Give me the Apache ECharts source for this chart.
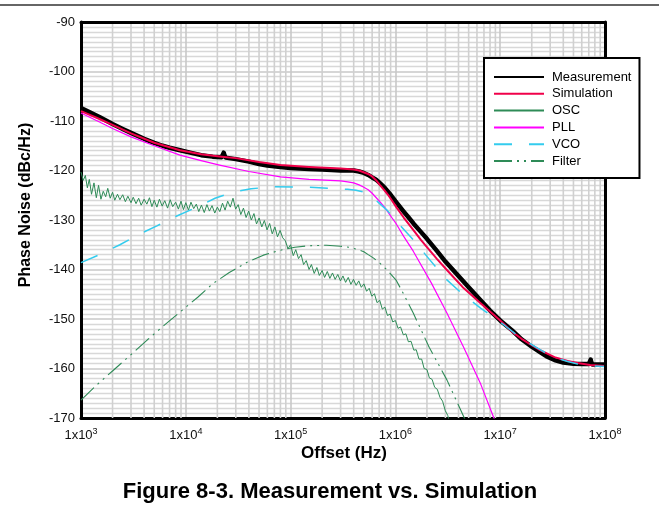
<!DOCTYPE html>
<html><head><meta charset="utf-8">
<script src="https://cdn.jsdelivr.net/npm/echarts@6/dist/echarts.min.js"></script>
<style>html,body{margin:0;padding:0;background:#fff}#c{width:659px;height:518px}</style>
</head><body><div id="c"></div>
<script>
const FONT = '"Liberation Sans", Arial, Helvetica, sans-serif';
const xExtent = [1e3, 1e8];
const yTicks = [-90, -100, -110, -120, -130, -140, -150, -160, -170];
const minorMultipliers = [2, 3, 4, 5, 6, 7, 8, 9];
const decades = [1e3, 1e4, 1e5, 1e6, 1e7];
const seriesNames = ['Measurement', 'Simulation', 'OSC', 'PLL', 'VCO', 'Filter'];

const measurement = [[1000,-107.4],[1200,-108.2],[1500,-109.2],[2000,-110.6],[2500,-111.6],[3000,-112.4],[4000,-113.6],[5000,-114.4],[6000,-115.0],[7000,-115.4],[8800,-115.9],[11000,-116.4],[14000,-116.9],[18000,-117.2],[22000,-117.3],[22600,-116.9],[23000,-116.4],[23400,-116.9],[24000,-117.4],[30000,-117.7],[40000,-118.2],[50000,-118.7],[60000,-119.0],[80000,-119.3],[100000,-119.5],[150000,-119.7],[200000,-119.8],[300000,-120.0],[400000,-120.0],[450000,-120.2],[500000,-120.5],[550000,-120.9],[600000,-121.4],[650000,-121.8],[700000,-122.4],[750000,-123.0],[800000,-123.6],[900000,-124.9],[1000000,-126.2],[1100000,-127.3],[1200000,-128.3],[1350000,-129.6],[1500000,-130.8],[1750000,-132.4],[2000000,-133.8],[2500000,-136.3],[3000000,-138.4],[4000000,-141.3],[5000000,-143.6],[6500000,-146.2],[8000000,-148.3],[1e7,-150.3],[1.3e7,-152.3],[1.6e7,-154.1],[2e7,-155.6],[2.4e7,-156.7],[2.75e7,-157.5],[3.3e7,-158.3],[4e7,-158.8],[5e7,-159.05],[6e7,-159.1],[7e7,-159.1],[7.2e7,-158.7],[7.3e7,-158.2],[7.4e7,-158.7],[7.6e7,-159.2],[1e8,-159.2]];

const simulation = [[1000,-108.0],[1500,-109.6],[2000,-110.8],[3000,-112.5],[5000,-114.4],[8800,-115.9],[14000,-116.7],[22000,-117.2],[30000,-117.5],[50000,-118.3],[80000,-118.9],[150000,-119.3],[300000,-119.6],[400000,-119.8],[450000,-120.0],[490000,-120.3],[550000,-120.7],[600000,-121.2],[650000,-121.9],[710000,-122.9],[780000,-123.9],[850000,-124.9],[930000,-126.1],[1020000,-127.4],[1200000,-129.5],[1480000,-132.0],[1750000,-134.0],[2000000,-135.5],[2500000,-137.9],[3100000,-140.1],[4500000,-143.8],[6500000,-146.8],[1e7,-150.3],[1.3e7,-152.6],[1.6e7,-154.0],[2e7,-155.3],[2.4e7,-156.3],[2.75e7,-156.9],[3.3e7,-157.7],[4.4e7,-158.5],[5.5e7,-158.9],[7.2e7,-159.3],[1e8,-159.5]];

const osc = [[1000,-120.3],[1050,-122.0],[1100,-121.0],[1150,-123.5],[1200,-121.8],[1260,-124.8],[1330,-122.5],[1400,-125.5],[1470,-123.0],[1550,-125.8],[1630,-124.2],[1720,-125.3],[1800,-123.6],[1900,-125.6],[2000,-124.4],[2100,-126.0],[2230,-124.8],[2350,-125.9],[2500,-124.9],[2650,-126.3],[2800,-125.2],[3000,-126.5],[3150,-125.4],[3350,-126.7],[3550,-125.6],[3750,-127.0],[4000,-125.8],[4250,-126.8],[4500,-125.5],[4750,-127.3],[5000,-126.0],[5300,-127.4],[5600,-125.8],[5950,-127.2],[6300,-126.1],[6700,-127.6],[7100,-125.9],[7500,-127.3],[8000,-126.4],[8500,-127.8],[9000,-126.2],[9500,-127.9],[10000,-126.5],[10600,-128.0],[11200,-126.4],[11900,-127.7],[12600,-126.8],[13300,-128.3],[14100,-127.0],[15000,-128.5],[15900,-126.9],[16800,-128.2],[17800,-127.1],[18900,-128.6],[20000,-127.4],[21100,-128.3],[22400,-126.6],[23700,-128.0],[25100,-126.2],[26600,-127.4],[28200,-125.6],[29900,-127.8],[31600,-126.9],[33500,-128.9],[35500,-127.6],[37600,-129.5],[39800,-128.2],[42200,-130.0],[44700,-128.7],[47300,-130.8],[50100,-129.6],[53100,-131.4],[56200,-130.1],[59600,-132.0],[63100,-130.7],[66800,-132.8],[70800,-131.4],[75000,-133.4],[79400,-132.1],[84100,-133.6],[89100,-134.2],[94400,-135.8],[100000,-135.0],[106000,-137.2],[112000,-136.0],[119000,-137.8],[126000,-137.0],[133000,-139.0],[141000,-138.2],[150000,-140.0],[158000,-139.0],[168000,-140.8],[178000,-139.6],[188000,-141.2],[200000,-140.2],[211000,-141.6],[224000,-140.4],[237000,-141.8],[251000,-140.7],[266000,-142.0],[282000,-141.0],[299000,-142.3],[316000,-141.3],[335000,-142.6],[355000,-141.6],[376000,-143.0],[398000,-142.0],[422000,-143.2],[447000,-142.3],[473000,-143.6],[501000,-142.9],[531000,-144.4],[562000,-143.8],[596000,-145.4],[631000,-144.9],[668000,-146.7],[708000,-146.2],[750000,-148.0],[794000,-147.6],[841000,-149.3],[891000,-149.0],[944000,-150.6],[1000000,-150.3],[1060000,-151.9],[1120000,-151.6],[1190000,-153.2],[1260000,-153.0],[1330000,-154.6],[1410000,-154.5],[1500000,-156.3],[1580000,-156.2],[1680000,-158.1],[1780000,-158.1],[1880000,-160.0],[2000000,-160.2],[2110000,-161.9],[2240000,-162.2],[2370000,-163.8],[2510000,-164.2],[2660000,-165.8],[2820000,-166.6],[2990000,-168.5],[3160000,-169.5],[3350000,-171.5]];

const pll = [[1000,-108.4],[1500,-110.2],[2000,-111.5],[3000,-113.2],[5000,-115.0],[8800,-116.9],[14000,-118.0],[21000,-118.9],[40000,-120.2],[80000,-121.3],[150000,-121.8],[300000,-122.1],[350000,-122.3],[400000,-122.5],[450000,-122.9],[490000,-123.3],[550000,-123.9],[600000,-124.6],[650000,-125.4],[710000,-126.3],[780000,-127.3],[850000,-128.4],[930000,-129.6],[1020000,-130.8],[1200000,-133.3],[1480000,-136.3],[2200000,-142.7],[3100000,-148.8],[4500000,-155.8],[6500000,-163.1],[8700000,-170.0],[1e7,-172.8]];

const vco = [[1000,-138.6],[1500,-137.0],[2350,-135.0],[3500,-133.0],[5300,-131.2],[8000,-129.3],[12800,-127.4],[19000,-125.6],[28000,-124.4],[35000,-124.0],[42000,-123.7],[55000,-123.45],[68000,-123.3],[150000,-123.4],[350000,-123.8],[420000,-124.0],[490000,-124.3],[550000,-124.8],[620000,-125.6],[700000,-126.6],[830000,-128.0],[1100000,-131.0],[1480000,-134.0],[2100000,-137.9],[3100000,-142.1],[4500000,-145.2],[6500000,-147.8],[1e7,-150.6],[1.4e7,-153.0],[2e7,-155.2],[2.4e7,-156.2],[2.75e7,-156.9],[3.5e7,-157.9],[4.4e7,-158.6],[5.5e7,-159.1],[7e7,-159.4],[1e8,-159.6]];

const filter = [[1000,-166.4],[1400,-163.4],[2050,-160.3],[3000,-157.2],[4300,-154.2],[6200,-151.3],[8800,-148.6],[13000,-145.6],[18000,-142.9],[26000,-140.6],[38000,-138.6],[55000,-137.1],[80000,-136.1],[110000,-135.5],[150000,-135.2],[220000,-135.1],[300000,-135.3],[360000,-135.5],[430000,-135.9],[500000,-136.4],[550000,-137.0],[620000,-137.7],[710000,-138.7],[850000,-140.3],[1020000,-142.2],[1200000,-145.0],[1480000,-148.8],[2100000,-155.7],[3100000,-162.3],[4500000,-169.8],[5000000,-172.0]];

const minorLines = [];
decades.forEach(d => minorMultipliers.forEach(m => minorLines.push([d * m])));

const chart = echarts.init(document.getElementById('c'), null, { renderer: 'canvas' });

const baseLine = (name, data, color, width, type, z) => ({
  name, type: 'line', data, symbol: 'none', showSymbol: false, smooth: false,
  animation: false, z: z, xAxisIndex: 0, yAxisIndex: 0,
  lineStyle: { color, width, type, join: 'round', cap: 'butt' }, itemStyle: { color }
});

const yMin = yTicks[yTicks.length - 1], yMax = yTicks[0];

chart.setOption({
  animation: false,
  textStyle: { fontFamily: FONT },
  grid: { left: 81, top: 22, width: 524, height: 396, show: false },
  xAxis: [{
    type: 'log', logBase: 10, min: xExtent[0], max: xExtent[1],
    axisLine: { show: true, lineStyle: { color: '#000', width: 3 } },
    axisTick: { show: false },
    splitLine: { show: true, lineStyle: { color: '#c8c8c8', width: 1.6 } },
    axisLabel: {
      margin: 9, color: '#111',
      formatter: v => '{b|1x10}{s|' + Math.round(Math.log10(v)) + '}',
      rich: { b: { fontSize: 13, fontFamily: FONT, color: '#111' }, s: { fontSize: 9, fontFamily: FONT, color: '#111', padding: [0, 0, 7, 0] } }
    }
  }, {
    type: 'log', logBase: 10, min: xExtent[0], max: xExtent[1], position: 'top', z: 10,
    axisLine: { show: true, lineStyle: { color: '#000', width: 3 } },
    axisTick: { show: false }, axisLabel: { show: false }, splitLine: { show: false }
  }],
  yAxis: [{
    type: 'value', min: yMin, max: yMax, interval: 10,
    axisLine: { show: true, lineStyle: { color: '#000', width: 3 } },
    axisTick: { show: false },
    axisLabel: { margin: 6, fontSize: 13, color: '#111', fontFamily: FONT },
    splitLine: { show: true, lineStyle: { color: '#c8c8c8', width: 1.5 } },
    minorTick: { show: false, splitNumber: 10 },
    minorSplitLine: { show: true, lineStyle: { color: '#d8d8d8', width: 1.4 } }
  }, {
    type: 'value', min: yMin, max: yMax, position: 'right', z: 10,
    axisLine: { show: true, lineStyle: { color: '#000', width: 3 } },
    axisTick: { show: false }, axisLabel: { show: false }, splitLine: { show: false }
  }],
  legend: {
    data: seriesNames, orient: 'vertical', left: 484, top: 58,
    padding: [12, 8, 10, 9], itemGap: 2.8, itemWidth: 50, itemHeight: 1,
    backgroundColor: '#fff', borderColor: '#000', borderWidth: 2, z: 20,
    itemStyle: { color: 'rgba(0,0,0,0)', borderWidth: 0, opacity: 0 },
    textStyle: { fontSize: 13, color: '#000', fontFamily: FONT, lineHeight: 14, padding: [0, 0, 0, 3] },
    selectedMode: false
  },
  series: [
    { type: 'custom', silent: true, z: 1, animation: false, xAxisIndex: 0, yAxisIndex: 0,
      data: minorLines, encode: { x: 0 },
      renderItem: (params, api) => {
        const p0 = api.coord([api.value(0), yMin]);
        const p1 = api.coord([api.value(0), yMax]);
        return { type: 'line', silent: true, shape: { x1: p0[0], y1: p0[1], x2: p1[0], y2: p1[1] },
          style: { stroke: '#d0d0d0', lineWidth: 1.6 } };
      } },
    baseLine('Measurement', measurement, '#000', 4.5, 'solid', 3),
    baseLine('Simulation', simulation, '#f0004a', 2, 'solid', 4),
    baseLine('OSC', osc, '#2e8b57', 1, 'solid', 4),
    baseLine('PLL', pll, '#ff00ff', 1.2, 'solid', 4),
    baseLine('VCO', vco, '#33ccee', 1.5, [18, 17], 4),
    baseLine('Filter', filter, '#2e8b57', 1.1, [18, 5, 2, 5, 2, 5], 4)
  ],
  graphic: [
    { type: 'line', shape: { x1: 0, y1: 5, x2: 659, y2: 5 }, style: { stroke: '#333', lineWidth: 1.5 } },
    { type: 'text', x: 26, y: 205, rotation: Math.PI / 2,
      style: { text: 'Phase Noise (dBc/Hz)', font: 'bold 16px ' + FONT, fill: '#000', textAlign: 'center', textVerticalAlign: 'middle' } },
    { type: 'text', x: 344, y: 453,
      style: { text: 'Offset (Hz)', font: 'bold 17px ' + FONT, fill: '#000', textAlign: 'center', textVerticalAlign: 'middle' } },
    { type: 'text', x: 330, y: 492,
      style: { text: 'Figure 8-3. Measurement vs. Simulation', font: 'bold 22px ' + FONT, fill: '#000', textAlign: 'center', textVerticalAlign: 'middle' } }
  ]
});
</script></body></html>
